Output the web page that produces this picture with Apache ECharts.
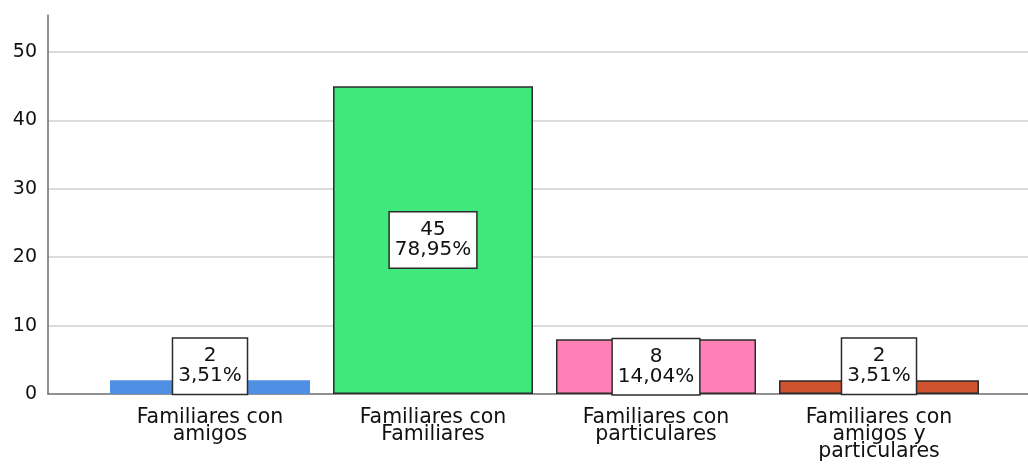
<!DOCTYPE html>
<html>
<head>
<meta charset="utf-8">
<script src="https://cdn.jsdelivr.net/npm/echarts@6/dist/echarts.min.js"></script>
<style>
  html, body { margin: 0; padding: 0; background: #fff; }
  #chart { width: 1028px; height: 466px; }
</style>
</head>
<body>
<div id="chart"></div>
<script>
const categories = [
  'Familiares con\namigos',
  'Familiares con\nFamiliares',
  'Familiares con\nparticulares',
  'Familiares con\namigos y\nparticulares',
];
const counts = [2, 45, 8, 2];
const percents = ['3,51%', '78,95%', '14,04%', '3,51%'];
const colors = ['#4f8fe4', '#40e87c', '#fd80b7', '#cf532f'];
const yTicks = [0, 10, 20, 30, 40, 50];

const font = 'DejaVu Sans';
const yMax = 55.4;

const chart = echarts.init(document.getElementById('chart'));

const barData = counts.map((v, i) => {
  const item = {
    value: v,
    itemStyle: {
      color: colors[i],
      borderColor: i === 0 ? colors[i] : '#2b2b2b',
      borderWidth: i === 0 ? 0 : 1.5,
    },
  };
  // small bars: push the box up so it sits on the axis
  if (v < 5) {
    item.label = { offset: [0, -21] };
  }
  return item;
});

chart.setOption({
  animation: false,
  backgroundColor: '#fff',
  grid: [
    { left: 48, right: 0, top: 15, bottom: 72 },
    { left: 98.5, right: 37.5, top: 15, bottom: 72 },
  ],
  xAxis: [
    {
      gridIndex: 0,
      type: 'category',
      data: categories,
      axisLine: { show: true, lineStyle: { color: '#6e6e6e', width: 1.5 } },
      axisTick: { show: false },
      axisLabel: { show: false },
    },
    {
      gridIndex: 1,
      type: 'category',
      data: categories,
      axisLine: { show: false },
      axisTick: { show: false },
      axisLabel: {
        fontFamily: font,
        fontSize: 20.5,
        lineHeight: 17,
        color: '#111',
        margin: 15,
        interval: 0,
      },
    },
  ],
  yAxis: [
    {
      gridIndex: 0,
      type: 'value',
      min: 0,
      max: yMax,
      interval: 10,
      axisLine: { show: true, lineStyle: { color: '#6e6e6e', width: 1.5 } },
      axisTick: { show: false },
      axisLabel: {
        fontFamily: font,
        fontSize: 19,
        color: '#111',
        margin: 11,
        showMaxLabel: false,
        formatter: (v) => (yTicks.includes(v) ? String(v) : ''),
      },
      splitLine: {
        show: true,
        showMinLine: false,
        showMaxLine: false,
        lineStyle: { color: '#cfcfcf', width: 1.5 },
      },
    },
    {
      gridIndex: 1,
      type: 'value',
      min: 0,
      max: yMax,
      interval: 10,
      show: false,
    },
  ],
  series: [
    {
      type: 'bar',
      xAxisIndex: 1,
      yAxisIndex: 1,
      barWidth: 200,
      data: barData,
      label: {
        show: true,
        position: 'inside',
        fontFamily: font,
        fontSize: 20,
        lineHeight: 20,
        color: '#111',
        backgroundColor: '#fff',
        borderColor: '#2b2b2b',
        borderWidth: 1.5,
        padding: [8, 5, 7, 5],
        formatter: (p) => counts[p.dataIndex] + '\n' + percents[p.dataIndex],
      },
    },
  ],
});
</script>
</body>
</html>
